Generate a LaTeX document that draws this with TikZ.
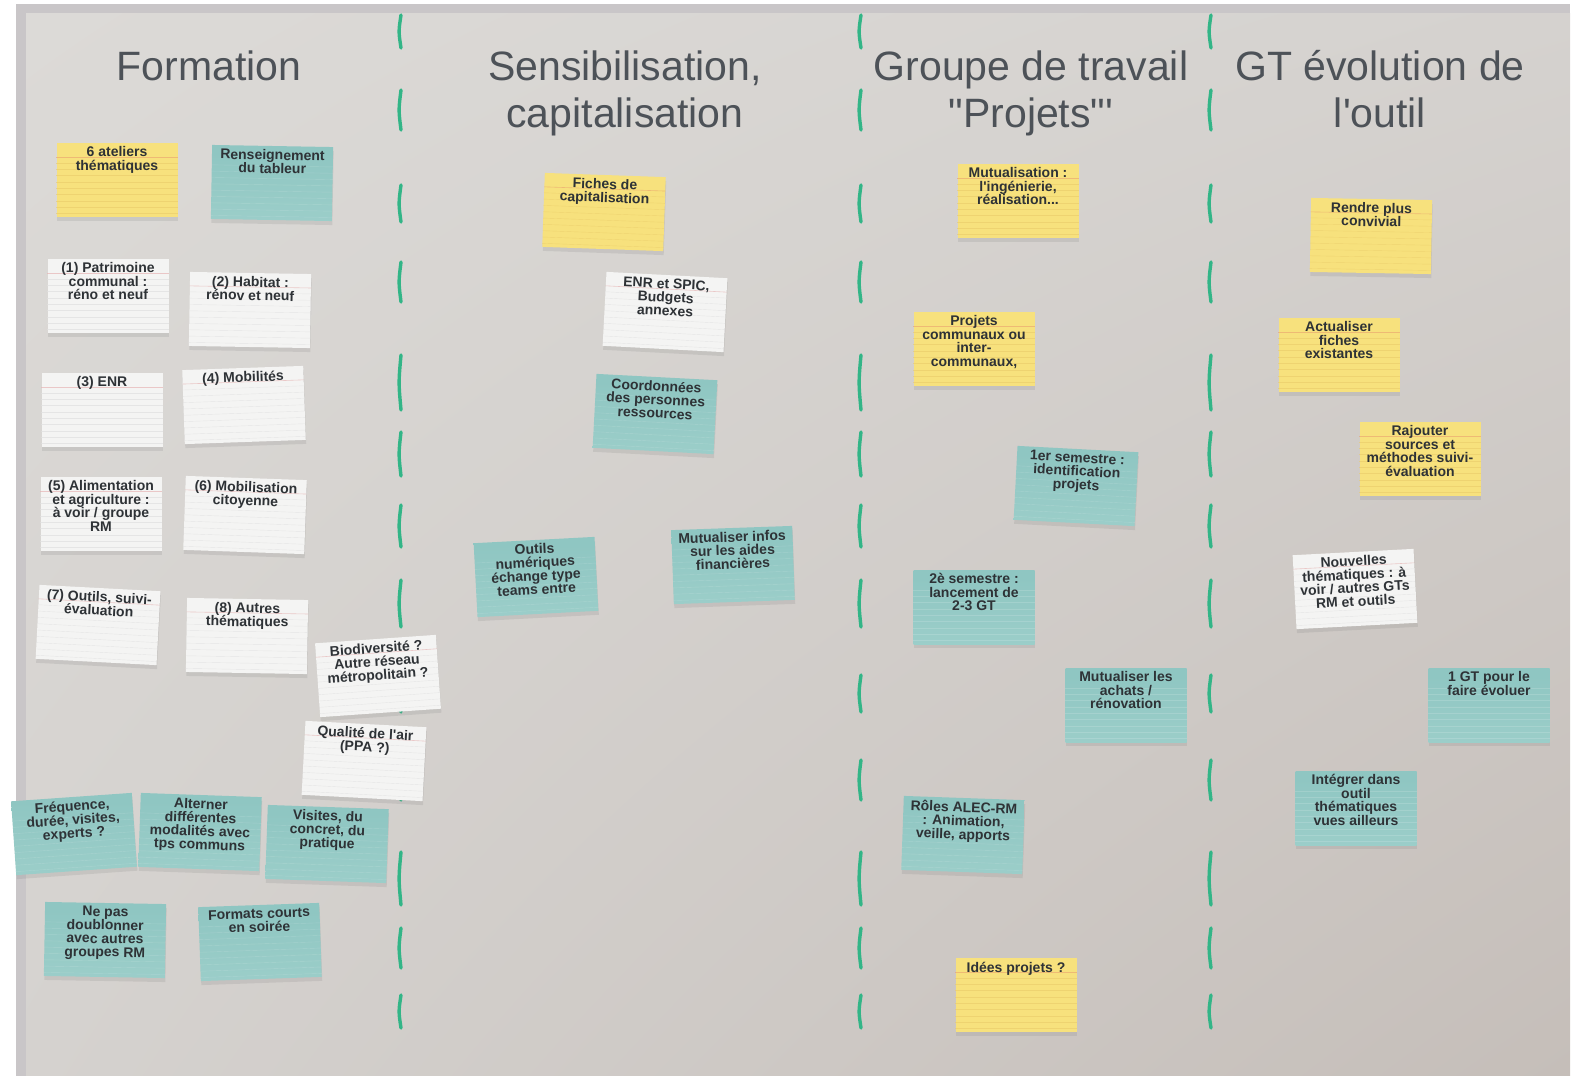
\documentclass[tikz,border=0pt]{standalone}
\usepackage{fontspec}
\setmainfont{Liberation Sans}[Ligatures=TeXOff]
\usetikzlibrary{positioning,calc,shadows,shadings}

\definecolor{boardlight}{HTML}{DCDAD7}
\definecolor{boardmid}{HTML}{D5D2CF}
\definecolor{boarddark}{HTML}{C5BEB9}
\definecolor{framegrey}{HTML}{C9C6C8}
\definecolor{titlegrey}{HTML}{4D5258}
\definecolor{inkgrey}{HTML}{2E3236}
\definecolor{markergreen}{HTML}{33B587}
\definecolor{noteyellow}{HTML}{F7E17D}
\definecolor{ruleyellow}{HTML}{E9CB6A}
\definecolor{topred}{HTML}{E8A06E}
\definecolor{notewhite}{HTML}{F4F4F3}
\definecolor{rulewhite}{HTML}{E0E0E0}
\definecolor{toppink}{HTML}{E6B5B5}
\definecolor{tealtop}{HTML}{5F9E9E}
\definecolor{tealmid}{HTML}{8FC6C2}
\definecolor{tealbot}{HTML}{A2D2CD}

\pgfdeclareverticalshading{tealcard}{100bp}{color(0bp)=(tealbot); color(70bp)=(tealmid); color(92bp)=(tealmid); color(100bp)=(tealtop)}

% one sticky note: name, colour style, centre, angle, text
\newcommand{\postit}[5]{%
	\node[#2, rotate=#4] (#1) at (#3) {};
	\draw[#2 top] ($(#1.north west)!0.19!(#1.south west)$) -- ($(#1.north east)!0.19!(#1.south east)$);
	\foreach \k in {0.27,0.355,...,0.96}
	\draw[#2 rule] ($(#1.north west)!\k!(#1.south west)$) -- ($(#1.north east)!\k!(#1.south east)$);
	\node[notetext, rotate=#4, anchor=north] at ($(#1.north)!0.05!(#1.south)$) {#5};
}

\begin{document}
\begin{tikzpicture}
	[x=1pt,y=-1pt,
	title/.style={font=\fontsize{41}{47}\selectfont, text=titlegrey, align=center, anchor=base},
	card/.style={rectangle, minimum width=121pt, minimum height=74pt, inner sep=0pt,
		drop shadow={opacity=0.18, shadow xshift=0.5pt, shadow yshift=-4pt}},
	yellownote/.style={card, fill=noteyellow},
	yellownote top/.style={draw=topred, opacity=0.6, line width=0.6pt},
	yellownote rule/.style={draw=ruleyellow, opacity=0.6, line width=0.4pt},
	whitenote/.style={card, fill=notewhite},
	whitenote top/.style={draw=toppink, opacity=0.7, line width=0.6pt},
	whitenote rule/.style={draw=rulewhite, opacity=0.7, line width=0.4pt},
	tealnote/.style={card, shade, shading=tealcard},
	tealnote top/.style={draw=none},
	tealnote rule/.style={draw=white, opacity=0.15, line width=0.4pt},
	notetext/.style={font=\bfseries\fontsize{14}{13.5}\selectfont, align=center, inner sep=0pt, text=inkgrey},
	divider/.style={draw=markergreen, line width=3.4pt, line cap=round}]
	\useasboundingbox (0,0) rectangle (1582,1076);
	
	% board
	\fill[framegrey] (16,4) rectangle (1570,1076);
	\shade[upper left=boardlight, upper right=boardmid, lower left=boardmid, lower right=boarddark] (26,13) rectangle (1570,1076);
	
	% column dividers
	\foreach \xd in {400,860,1210}
	\foreach \ya/\yb in {15/48,90/130,185/222,262/302,355/410,432/476,505/547,580/627,675/712,760/800,852/905,928/968,995/1028}
	\draw[divider] (\xd+1,\ya) .. controls ({\xd-1.5},{(\ya+\yb)/2}) .. (\xd+1,\yb);
	
	% titles
	\node[title] (formation) at (209,80) {Formation};
	\node[title] (sensibilisation) at (625,127) {Sensibilisation,\\capitalisation};
	\node[title] (groupe) at (1031,127) {Groupe de travail\\"Projets"'};
	\node[title] (evolution) at (1380,127) {GT évolution de\\l'outil};
	
	% Formation
	\postit{ateliers}{yellownote}{117,180}{0}{6 ateliers\\thématiques}
	\postit{tableur}{tealnote}{272,183}{-1}{Renseignement\\du tableur}
	\postit{patrimoine}{whitenote}{108,296}{0}{(1) Patrimoine\\communal :\\réno et neuf}
	\postit{habitat}{whitenote}{250,310}{-1}{(2) Habitat :\\rénov et neuf}
	\postit{enr}{whitenote}{102,410}{0}{(3) ENR}
	\postit{mobilites}{whitenote}{244,405}{2}{(4) Mobilités}
	\postit{alimentation}{whitenote}{101,514}{0}{(5) Alimentation\\et agriculture :\\à voir / groupe\\RM}
	\postit{mobilisation}{whitenote}{245,515}{-2}{(6) Mobilisation\\citoyenne}
	\postit{outils}{whitenote}{98,625}{-3}{(7) Outils, suivi-\\évaluation}
	\postit{autres}{whitenote}{247,636}{-1}{(8) Autres\\thématiques}
	\postit{biodiversite}{whitenote}{378,676}{4}{Biodiversité ?\\Autre réseau\\métropolitain ?}
	\postit{qualite}{whitenote}{364,761}{-3}{Qualité de l'air\\(PPA ?)}
	\postit{frequence}{tealnote}{74,834}{4}{Fréquence,\\durée, visites,\\experts ?}
	\postit{alterner}{tealnote}{200,832}{-2}{Alterner\\différentes\\modalités avec\\tps communs}
	\postit{visites}{tealnote}{327,844}{-2}{Visites, du\\concret, du\\pratique}
	\postit{doublonner}{tealnote}{105,940}{-1}{Ne pas\\doublonner\\avec autres\\groupes RM}
	\postit{formats}{tealnote}{260,942}{2}{Formats courts\\en soirée}
	
	% Sensibilisation, capitalisation
	\postit{fiches}{yellownote}{604,212}{-2}{Fiches de\\capitalisation}
	\postit{spic}{whitenote}{665,312}{-3}{ENR et SPIC,\\Budgets\\annexes}
	\postit{coordonnees}{tealnote}{655,414}{-3}{Coordonnées\\des personnes\\ressources}
	\postit{numeriques}{tealnote}{536,577}{3}{Outils\\numériques\\échange type\\teams entre}
	\postit{aides}{tealnote}{733,565}{2}{Mutualiser infos\\sur les aides\\financières}
	
	% Groupe de travail
	\postit{mutualisation}{yellownote}{1018,201}{0}{Mutualisation :\\l'ingénierie,\\réalisation...}
	\postit{communaux}{yellownote}{974,349}{0}{Projets\\communaux ou\\inter-\\communaux,}
	\postit{semestre1}{tealnote}{1076,486}{-3}{1er semestre :\\identification\\projets}
	\postit{semestre2}{tealnote}{974,607}{0}{2è semestre :\\lancement de\\2-3 GT}
	\postit{achats}{tealnote}{1126,705}{0}{Mutualiser les\\achats /\\rénovation}
	\postit{roles}{tealnote}{963,835}{-2}{Rôles ALEC-RM\\: Animation,\\veille, apports}
	\postit{idees}{yellownote}{1016,995}{0}{Idées projets ?}
	
	% GT evolution de l'outil
	\postit{convivial}{yellownote}{1371,236}{-1}{Rendre plus\\convivial}
	\postit{actualiser}{yellownote}{1339,355}{0}{Actualiser\\fiches\\existantes}
	\postit{rajouter}{yellownote}{1420,459}{0}{Rajouter\\sources et\\méthodes suivi-\\évaluation}
	\postit{nouvelles}{whitenote}{1355,589}{3}{Nouvelles\\thématiques : à\\voir / autres GTs\\RM et outils}
	\postit{evoluer}{tealnote}{1489,705}{0}{1 GT pour le\\faire évoluer}
	\postit{integrer}{tealnote}{1356,808}{0}{Intégrer dans\\outil\\thématiques\\vues ailleurs}
\end{tikzpicture}
\end{document}
